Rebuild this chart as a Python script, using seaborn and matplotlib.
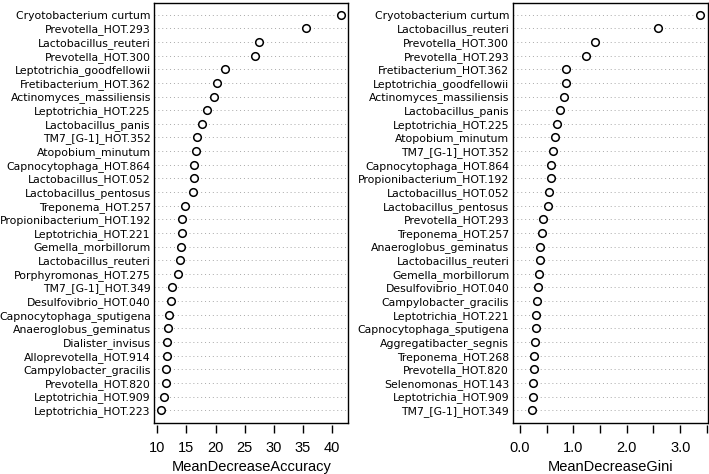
import numpy as np
import pandas as pd
import matplotlib
matplotlib.use("Agg")
import matplotlib.pyplot as plt
import seaborn as sns

# left panel: MeanDecreaseAccuracy, top to bottom
acc_names = ["Cryotobacterium curtum", "Prevotella_HOT.293", "Lactobacillus_reuteri",
             "Prevotella_HOT.300", "Leptotrichia_goodfellowii", "Fretibacterium_HOT.362",
             "Actinomyces_massiliensis", "Leptotrichia_HOT.225", "Lactobacillus_panis",
             "TM7_[G-1]_HOT.352", "Atopobium_minutum", "Capnocytophaga_HOT.864",
             "Lactobacillus_HOT.052", "Lactobacillus_pentosus", "Treponema_HOT.257",
             "Propionibacterium_HOT.192", "Leptotrichia_HOT.221", "Gemella_morbillorum",
             "Lactobacillus_reuteri", "Porphyromonas_HOT.275", "TM7_[G-1]_HOT.349",
             "Desulfovibrio_HOT.040", "Capnocytophaga_sputigena", "Anaeroglobus_geminatus",
             "Dialister_invisus", "Alloprevotella_HOT.914", "Campylobacter_gracilis",
             "Prevotella_HOT.820", "Leptotrichia_HOT.909", "Leptotrichia_HOT.223"]
acc_values = [41.6, 35.6, 27.5, 26.8, 21.6, 20.2, 19.8, 18.55, 17.6, 16.8,
              16.7, 16.3, 16.3, 16.2, 14.8, 14.25, 14.25, 14.1, 13.95, 13.5,
              12.5, 12.4, 12.05, 11.85, 11.7, 11.6, 11.5, 11.4, 11.15, 10.7]

# right panel: MeanDecreaseGini, top to bottom
gini_names = ["Cryotobacterium curtum", "Lactobacillus_reuteri", "Prevotella_HOT.300",
              "Prevotella_HOT.293", "Fretibacterium_HOT.362", "Leptotrichia_goodfellowii",
              "Actinomyces_massiliensis", "Lactobacillus_panis", "Leptotrichia_HOT.225",
              "Atopobium_minutum", "TM7_[G-1]_HOT.352", "Capnocytophaga_HOT.864",
              "Propionibacterium_HOT.192", "Lactobacillus_HOT.052", "Lactobacillus_pentosus",
              "Prevotella_HOT.293", "Treponema_HOT.257", "Anaeroglobus_geminatus",
              "Lactobacillus_reuteri", "Gemella_morbillorum", "Desulfovibrio_HOT.040",
              "Campylobacter_gracilis", "Leptotrichia_HOT.221", "Capnocytophaga_sputigena",
              "Aggregatibacter_segnis", "Treponema_HOT.268", "Prevotella_HOT.820",
              "Selenomonas_HOT.143", "Leptotrichia_HOT.909", "TM7_[G-1]_HOT.349"]
gini_values = [3.38, 2.59, 1.40, 1.23, 0.855, 0.86, 0.82, 0.75, 0.70, 0.66,
               0.62, 0.585, 0.58, 0.54, 0.535, 0.43, 0.42, 0.38, 0.375, 0.36,
               0.34, 0.32, 0.31, 0.305, 0.29, 0.26, 0.255, 0.25, 0.24, 0.23]

acc_ticks = [10, 15, 20, 25, 30, 35, 40]
acc_ticklabels = ["10", "15", "20", "25", "30", "35", "40"]
gini_ticks = [0.0, 0.5, 1.0, 1.5, 2.0, 2.5, 3.0, 3.5]
gini_ticklabels = ["0.0", "", "1.0", "", "2.0", "", "3.0", ""]

sns.set_style("white")
plt.rcParams["font.family"] = ["DejaVu Sans"]
plt.rcParams["text.color"] = "black"
plt.rcParams["xtick.color"] = "black"
plt.rcParams["ytick.color"] = "black"
plt.rcParams["axes.labelcolor"] = "black"

fig = plt.figure(figsize=(7.09, 4.74), dpi=100)
ax1 = fig.add_axes([0.2176, 0.1082, 0.2736, 0.8861])
ax2 = fig.add_axes([0.7231, 0.1082, 0.2751, 0.8861])


def dotpanel(ax, names, values, ticks, ticklabels, xlabel, xlim):
    df = pd.DataFrame({"name": names, "value": values, "row": np.arange(len(names))})
    ax.grid(axis="y", color="#a8a8a8", linestyle=(0, (1, 3)), linewidth=0.7)
    ax.grid(axis="x", visible=False)
    ax.set_axisbelow(True)
    sns.scatterplot(data=df, x="value", y="row", ax=ax, marker="o", s=30,
                    facecolor="white", edgecolor="black", linewidth=1.1, zorder=3)
    ax.set_yticks(df["row"])
    ax.set_yticklabels(df["name"], fontsize=7.8)
    ax.set_ylim(len(names) - 1 + 0.92, -0.88)
    ax.set_xlim(*xlim)
    ax.tick_params(axis="y", length=0, pad=2.5)
    ax.set_ylabel("")
    ax.set_xlabel("")
    ax.set_xticks([])
    for sp in ax.spines.values():
        sp.set_visible(True)
        sp.set_color("black")
        sp.set_linewidth(1.0)
    # axis ticks hanging slightly below the box, as in R
    sec = ax.secondary_xaxis(-0.006)
    sec.set_xticks(ticks)
    sec.set_xticklabels(ticklabels, fontsize=10.5, family="Liberation Sans")
    sec.spines["bottom"].set_visible(False)
    sec.tick_params(axis="x", direction="out", length=6, width=1.0, pad=5, color="black")
    sec.set_xlabel(xlabel, fontsize=10.5, family="Liberation Sans", labelpad=4)


a_rng = max(acc_values) - min(acc_values)
dotpanel(ax1, acc_names, acc_values, acc_ticks, acc_ticklabels, "MeanDecreaseAccuracy",
         (min(acc_values) - 0.04 * a_rng, max(acc_values) + 0.04 * a_rng))
g_max = max(gini_values)
dotpanel(ax2, gini_names, gini_values, gini_ticks, gini_ticklabels, "MeanDecreaseGini",
         (-0.04 * g_max, 1.04 * g_max))

fig.savefig("out.png", dpi=100)
